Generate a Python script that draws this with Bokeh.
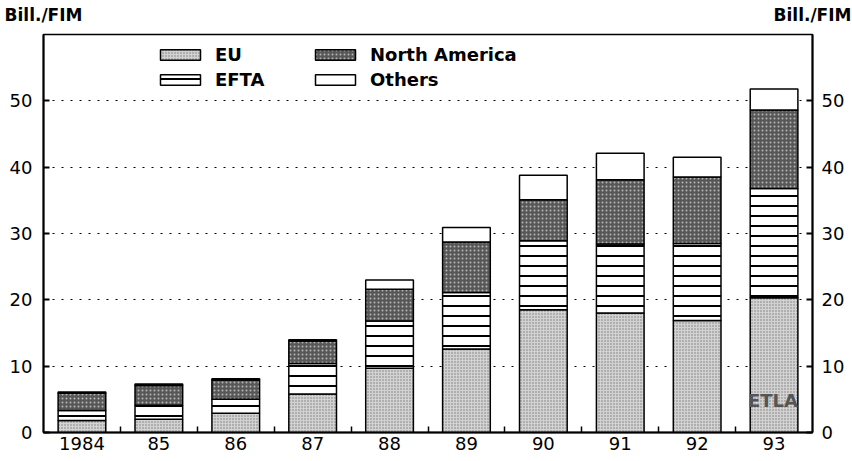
from bokeh.plotting import figure
from bokeh.models import Range1d, FixedTicker, LinearAxis, Legend, LegendItem, Label, ColumnDataSource
from bokeh.embed import file_html
from bokeh.resources import INLINE

years = ["1984", "85", "86", "87", "88", "89", "90", "91", "92", "93"]
eu = [1.8, 2.0, 2.9, 5.8, 9.7, 12.6, 18.5, 18.0, 16.9, 20.3]
efta = [1.5, 2.1, 2.1, 4.6, 7.1, 8.5, 10.4, 10.4, 11.6, 16.5]
north_america = [2.6, 3.0, 2.9, 3.4, 4.8, 7.6, 6.2, 9.7, 10.0, 11.8]
others = [0.2, 0.2, 0.2, 0.2, 1.4, 2.2, 3.7, 4.0, 3.0, 3.2]
y_ticks = [0, 10, 20, 30, 40, 50]
unit_label = "Bill./FIM"
source_label = "ETLA"

n = len(years)
centers = [i + 0.5 for i in range(n)]
bounds = [i for i in range(1, n)]

src = ColumnDataSource(dict(x=centers, EU=eu, EFTA=efta, NA=north_america, Others=others))

FONT = "DejaVu Sans"

p = figure(frame_width=769, frame_height=398, output_backend="svg", toolbar_location=None,
           x_range=Range1d(0, n), y_range=Range1d(0, 60),
           min_border_left=43, min_border_right=40, min_border_top=34, min_border_bottom=19)
p.outline_line_color = "black"
p.outline_line_width = 1.5
p.xgrid.visible = False
p.ygrid.ticker = FixedTicker(ticks=y_ticks[1:])
p.ygrid.grid_line_color = "black"
p.ygrid.grid_line_dash = "2 7"
p.ygrid.grid_line_width = 1.2

rs = p.vbar_stack(["EU", "EFTA", "NA", "Others"], x="x", width=0.62, source=src,
                  fill_color=["#d2d2d2", "white", "#575757", "white"],
                  hatch_pattern=["dot", "horizontal_line", "dot", " "],
                  hatch_color=["#7a7a7a", "black", "#b5b5b5", "black"],
                  hatch_scale=[3, 10, 4, 10],
                  hatch_weight=[1, 2, 1, 1],
                  line_color="black", line_width=1.5)

def style_y(a, standoff):
    a.ticker = FixedTicker(ticks=y_ticks)
    a.major_tick_in = 6
    a.major_tick_out = 0
    a.minor_tick_line_color = None
    a.axis_line_width = 2
    a.major_tick_line_width = 2
    a.major_label_standoff = standoff
    a.major_label_text_font = FONT
    a.major_label_text_font_size = "18px"
    a.major_label_text_color = "black"

style_y(p.yaxis[0], 11)
ra = LinearAxis()
style_y(ra, 9)
p.add_layout(ra, "right")

bx = p.xaxis[0]
bx.ticker = FixedTicker(ticks=centers, minor_ticks=bounds)
bx.major_label_overrides = {c: y for c, y in zip(centers, years)}
bx.major_tick_in = 0
bx.major_tick_out = 0
bx.minor_tick_in = 6
bx.minor_tick_out = 0
bx.minor_tick_line_width = 1.5
bx.axis_line_width = 2
bx.major_label_standoff = 4
bx.major_label_text_font = FONT
bx.major_label_text_font_size = "18px"
bx.major_label_text_color = "black"

# unit labels above both value axes (top corners of the frame)
ta = LinearAxis(ticker=FixedTicker(ticks=[0.0, float(n)]))
ta.major_label_overrides = {0.0: unit_label, float(n): unit_label}
ta.major_tick_in = 0
ta.major_tick_out = 0
ta.minor_tick_line_color = None
ta.axis_line_color = None
ta.major_label_standoff = 10
ta.major_label_text_font = FONT
ta.major_label_text_font_size = "17px"
ta.major_label_text_font_style = "bold"
ta.major_label_text_color = "black"
p.add_layout(ta, "above")

legend = Legend(items=[LegendItem(label="EU", renderers=[rs[0]]),
                       LegendItem(label="EFTA", renderers=[rs[1]]),
                       LegendItem(label="North America", renderers=[rs[2]]),
                       LegendItem(label="Others", renderers=[rs[3]])],
                ncols=2, location=(112, 342), glyph_width=50, glyph_height=13,
                label_standoff=10, label_width=91, label_height=20, spacing=4, padding=0, margin=0,
                border_line_color=None, background_fill_alpha=0,
                label_text_font=FONT, label_text_font_size="18px", label_text_font_style="bold",
                label_text_color="black")
p.add_layout(legend, "center")

p.add_layout(Label(x=9.81, y=4.8, text=source_label, text_align="right", text_baseline="alphabetic",
                   text_font=FONT, text_font_size="18px", text_font_style="bold",
                   text_color="#555555"))

open("out.html", "w").write(file_html(p, INLINE))
